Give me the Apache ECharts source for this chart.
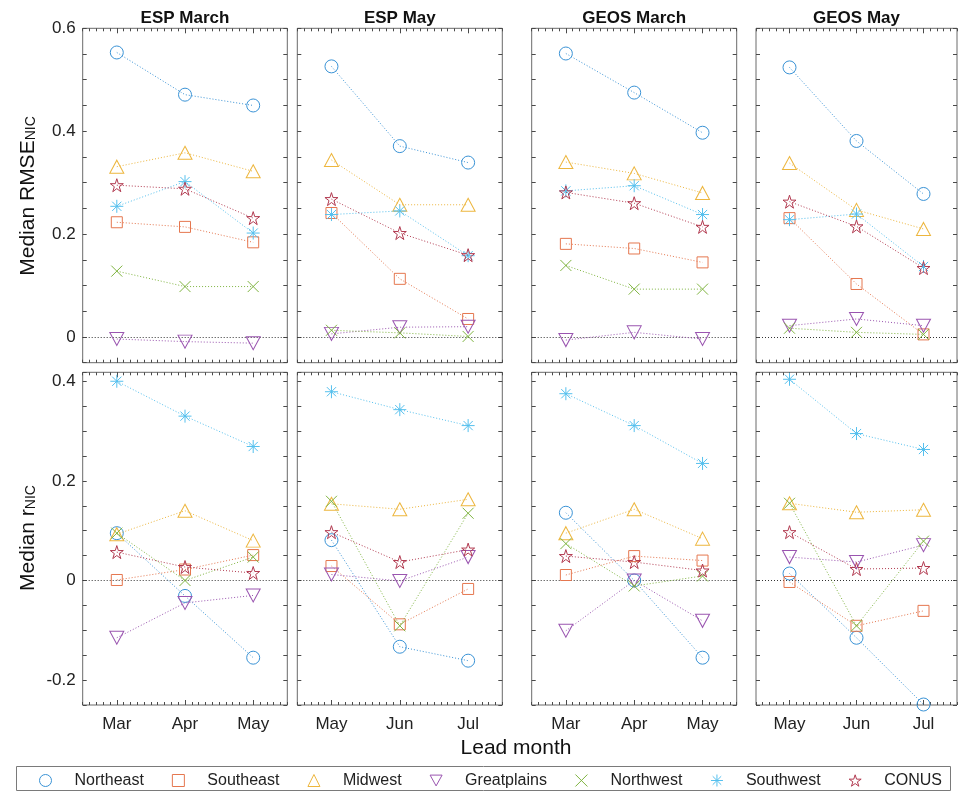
<!DOCTYPE html>
<html>
<head>
<meta charset="utf-8">
<script src="https://cdn.jsdelivr.net/npm/echarts@6/dist/echarts.min.js"></script>
<style>
html,body{margin:0;padding:0;background:#fff;}
#chart{width:958px;height:794px;}
</style>
</head>
<body>
<div id="chart"></div>
<script>
// ---------------- data ----------------
const regions = ['Northeast','Southeast','Midwest','Greatplains','Northwest','Southwest','CONUS'];
const leadMonthsMar = ['Mar','Apr','May'];
const leadMonthsMay = ['May','Jun','Jul'];
const panelTitles = ['ESP March','ESP May','GEOS March','GEOS May'];
const rmseTicks = [0, 0.2, 0.4, 0.6];
const rTicks = [-0.2, 0, 0.2, 0.4];
const rmseRange = [-0.05, 0.6];
const rRange = [-0.25, 0.418];

// Median RMSE_NIC, one row per region (order of `regions`)
const rmseEspMar = [
  [0.553, 0.471, 0.450],
  [0.223, 0.214, 0.184],
  [0.331, 0.358, 0.322],
  [-0.004, -0.009, -0.012],
  [0.128, 0.098, 0.098],
  [0.254, 0.302, 0.202],
  [0.295, 0.288, 0.231]
];
const rmseEspMay = [
  [0.526, 0.371, 0.339],
  [0.241, 0.113, 0.035],
  [0.344, 0.257, 0.257],
  [0.006, 0.019, 0.020],
  [0.013, 0.008, 0.001],
  [0.238, 0.245, 0.158],
  [0.268, 0.202, 0.159]
];
const rmseGeosMar = [
  [0.551, 0.475, 0.397],
  [0.181, 0.172, 0.145],
  [0.340, 0.318, 0.280],
  [-0.006, 0.009, -0.004],
  [0.139, 0.093, 0.093],
  [0.284, 0.294, 0.238],
  [0.281, 0.260, 0.214]
];
const rmseGeosMay = [
  [0.524, 0.381, 0.278],
  [0.231, 0.103, 0.005],
  [0.338, 0.247, 0.210],
  [0.022, 0.035, 0.022],
  [0.017, 0.009, 0.005],
  [0.228, 0.239, 0.137],
  [0.263, 0.215, 0.134]
];
// Median r_NIC
const rEspMar = [
  [0.095, -0.031, -0.155],
  [0.001, 0.022, 0.051],
  [0.093, 0.140, 0.080],
  [-0.115, -0.045, -0.030],
  [0.095, 0.000, 0.047],
  [0.400, 0.330, 0.269],
  [0.057, 0.027, 0.015]
];
const rEspMay = [
  [0.081, -0.133, -0.161],
  [0.029, -0.088, -0.017],
  [0.154, 0.143, 0.163],
  [0.012, -0.001, 0.047],
  [0.159, -0.091, 0.135],
  [0.379, 0.343, 0.311],
  [0.097, 0.037, 0.062]
];
const rGeosMar = [
  [0.136, 0.000, -0.155],
  [0.011, 0.049, 0.040],
  [0.095, 0.143, 0.084],
  [-0.101, 0.000, -0.081],
  [0.074, -0.011, 0.009],
  [0.375, 0.311, 0.235],
  [0.049, 0.037, 0.020]
];
const rGeosMay = [
  [0.014, -0.115, -0.249],
  [-0.003, -0.091, -0.061],
  [0.155, 0.137, 0.142],
  [0.047, 0.037, 0.071],
  [0.155, -0.091, 0.079],
  [0.404, 0.295, 0.263],
  [0.097, 0.023, 0.025]
];

// ---------------- styling ----------------
const FONT = '"Liberation Sans", Arial, Helvetica, sans-serif';
const colors = ['#3A93D6','#E5774F','#EDB63E','#9A55B0','#7FB440','#55C0EE','#B23A50'];

function starPath(){
  const pts = [];
  for (let i = 0; i < 10; i++) {
    const r = (i % 2) ? 0.38 : 1;
    const a = -Math.PI/2 + i*Math.PI/5;
    pts.push((50 + 50*r*Math.cos(a)).toFixed(2) + ',' + (50 + 50*r*Math.sin(a)).toFixed(2));
  }
  return 'path://M' + pts.join(' L') + ' Z';
}
const symbols = [
  'circle',
  'rect',
  'triangle',
  'path://M0,0 L10,0 L5,9 Z',
  'path://M0,0 L10,10 M10,0 L0,10',
  'path://M5,0 L5,10 M0,5 L10,5 M1.46,1.46 L8.54,8.54 M8.54,1.46 L1.46,8.54',
  starPath()
];
const symbolSizes = [13, 11, [14,13], [14,13], 11, 13, 13];

const colLeft = [82.7, 297.3, 531.7, 756];
const colWidth = [204.6, 205, 205, 201];
const rowTop = [28.3, 372.3];
const rowHeight = [334.4, 332.7];

const panels = [
  {row:0, col:0, data:rmseEspMar, months:leadMonthsMar},
  {row:0, col:1, data:rmseEspMay, months:leadMonthsMay},
  {row:0, col:2, data:rmseGeosMar, months:leadMonthsMar},
  {row:0, col:3, data:rmseGeosMay, months:leadMonthsMay},
  {row:1, col:0, data:rEspMar, months:leadMonthsMar},
  {row:1, col:1, data:rEspMay, months:leadMonthsMay},
  {row:1, col:2, data:rGeosMar, months:leadMonthsMar},
  {row:1, col:3, data:rGeosMay, months:leadMonthsMay}
];

const tickColor = '#4a4a4a';
const grids = [], xAxes = [], yAxes = [], series = [];

panels.forEach((p, g) => {
  grids.push({
    left: colLeft[p.col], top: rowTop[p.row],
    width: colWidth[p.col], height: rowHeight[p.row],
    show: true, borderColor: '#6a6a6a', borderWidth: 1, backgroundColor: '#fff'
  });
  const catAxis = (pos, showLabel) => ({
    type: 'category', gridIndex: g, position: pos, data: p.months,
    boundaryGap: true,
    axisLine: {show: false, onZero: false},
    axisTick: {show: true, inside: true, alignWithLabel: true, length: 5, lineStyle: {color: tickColor, width: 1}},
    axisLabel: {show: showLabel, fontSize: 17, color: '#222', fontFamily: FONT, margin: 11},
    splitLine: {show: false}
  });
  const minorAxis = (pos) => ({
    type: 'value', gridIndex: g, position: pos, min: 0.5, max: 3.5, interval: 0.1,
    axisLine: {show: false, onZero: false},
    axisTick: {show: true, inside: true, length: 3, lineStyle: {color: tickColor, width: 1}},
    axisLabel: {show: false}, splitLine: {show: false}
  });
  xAxes.push(catAxis('bottom', p.row === 1));
  xAxes.push(catAxis('top', false));
  xAxes.push(minorAxis('bottom'));
  xAxes.push(minorAxis('top'));

  const range = p.row === 0 ? rmseRange : rRange;
  const ticks = p.row === 0 ? rmseTicks : rTicks;
  const yAx = (pos, showLabel) => ({
    type: 'value', gridIndex: g, position: pos, min: range[0], max: range[1], interval: 0.05,
    axisLine: {show: false, onZero: false},
    axisTick: {show: true, inside: true, length: 4, lineStyle: {color: tickColor, width: 1}},
    axisLabel: {
      show: showLabel, fontSize: 17, color: '#222', fontFamily: FONT, margin: 7,
      formatter: v => {
        const t = ticks.find(t => Math.abs(t - v) < 1e-6);
        if (t === undefined) return '';
        return Math.abs(t) < 1e-9 ? '0' : String(+t.toFixed(1));
      }
    },
    splitLine: {show: false}
  });
  yAxes.push(yAx('left', p.col === 0));
  yAxes.push(yAx('right', false));

  regions.forEach((name, i) => {
    const s = {
      type: 'line', name: name,
      xAxisIndex: g*4, yAxisIndex: g*2,
      data: p.data[i],
      symbol: symbols[i], symbolSize: symbolSizes[i],
      showAllSymbol: true, clip: false,
      lineStyle: {color: colors[i], width: 1, type: [1, 2]},
      itemStyle: {color: 'rgba(255,255,255,0)', borderColor: colors[i], borderWidth: 1},
      emphasis: {disabled: true},
      silent: true, z: 3 + i
    };
    if (i === 0) {
      s.markLine = {
        silent: true, symbol: 'none', label: {show: false},
        lineStyle: {color: '#333', type: [1, 2], width: 1},
        data: [{yAxis: 0}], z: 2
      };
    }
    series.push(s);
  });
});

const graphics = [];
panelTitles.forEach((t, c) => {
  graphics.push({
    type: 'text', x: colLeft[c] + colWidth[c]/2, y: 18,
    style: {text: t, fontSize: 17, fontWeight: 'bold', fontFamily: FONT, fill: '#111', align: 'center', verticalAlign: 'middle'}
  });
});
graphics.push({
  type: 'text', x: 28, y: 196, rotation: Math.PI/2,
  style: {
    text: '{a|Median RMSE}{b|NIC}', fontFamily: FONT, fill: '#111', align: 'center', verticalAlign: 'middle',
    rich: {
      a: {fontSize: 21, lineHeight: 21, verticalAlign: 'top', fontFamily: FONT, fill: '#111'},
      b: {fontSize: 14, lineHeight: 14, verticalAlign: 'bottom', padding: [10, 0, 0, 0], fontFamily: FONT, fill: '#111'}
    }
  }
});
graphics.push({
  type: 'text', x: 28, y: 538, rotation: Math.PI/2,
  style: {
    text: '{a|Median r}{b|NIC}', fontFamily: FONT, fill: '#111', align: 'center', verticalAlign: 'middle',
    rich: {
      a: {fontSize: 21, lineHeight: 21, verticalAlign: 'top', fontFamily: FONT, fill: '#111'},
      b: {fontSize: 14, lineHeight: 14, verticalAlign: 'bottom', padding: [10, 0, 0, 0], fontFamily: FONT, fill: '#111'}
    }
  }
});
graphics.push({
  type: 'text', x: 516, y: 748,
  style: {text: 'Lead month', fontSize: 21, fontFamily: FONT, fill: '#111', align: 'center', verticalAlign: 'middle'}
});
graphics.push({
  type: 'rect', z: -1,
  shape: {x: 16.5, y: 766.5, width: 934, height: 24},
  style: {fill: '#fff', stroke: '#7a7a7a', lineWidth: 1}
});

const option = {
  animation: false,
  backgroundColor: '#fff',
  grid: grids,
  xAxis: xAxes,
  yAxis: yAxes,
  series: series,
  graphic: graphics,
  legend: {
    left: 39, top: 772.5, padding: 0,
    itemWidth: 12, itemHeight: 12, itemGap: 28,
    selectedMode: false,
    textStyle: {fontSize: 16, color: '#222', fontFamily: FONT, padding: [0, 0, 0, 18]},
    data: regions.map((name, i) => ({
      name: name, icon: symbols[i],
      itemStyle: {color: 'rgba(255,255,255,0)', borderColor: colors[i], borderWidth: 1}
    }))
  }
};

const chart = echarts.init(document.getElementById('chart'), null, {renderer: 'canvas'});
chart.setOption(option);
</script>
</body>
</html>
